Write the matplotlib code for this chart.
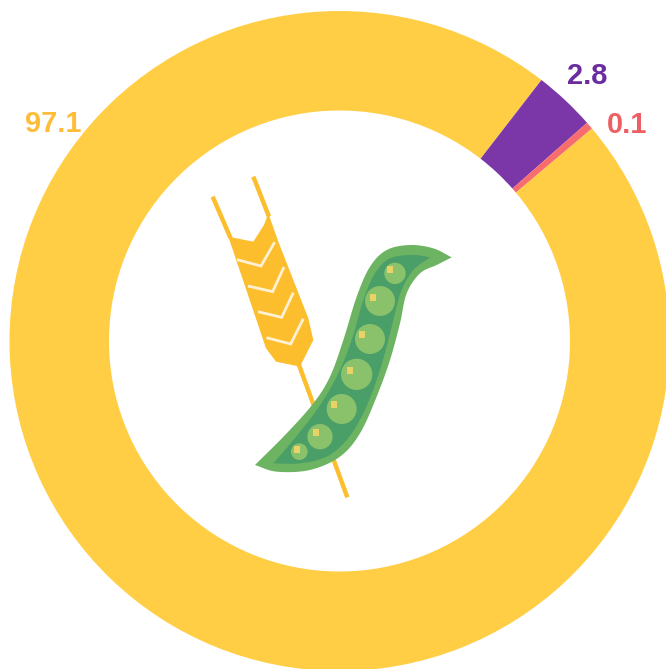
import numpy as np
import matplotlib
matplotlib.use("Agg")
import matplotlib.pyplot as plt
from matplotlib.patches import Polygon, Ellipse, Rectangle

plt.rcParams['font.family'] = ['Liberation Sans', 'DejaVu Sans']

# printed labels
categories = ["A", "B", "C"]
label_values = ["97.1", "2.8", "0.1"]
# slice sizes as measured from the arc angles in the picture
arc_shares = [96.62, 3.02, 0.36]
slice_colors = ["#FFCE45", "#7B36A8", "#F76C6C"]
label_colors = ["#FDBD39", "#6B2C9F", "#EE5F63"]

W, H = 666, 669
fig = plt.figure(figsize=(W / 100, H / 100), dpi=100)
ax = fig.add_axes([0, 0, 1, 1])

CX, CY, R_OUT, R_IN = 339.5, H - 341, 330, 230.5
ax.pie(arc_shares, colors=slice_colors, startangle=90 - 49.9, counterclock=False,
       center=(CX, CY), radius=R_OUT, labels=None,
       wedgeprops=dict(width=R_OUT - R_IN, linewidth=0))
ax.set_xlim(0, W)
ax.set_ylim(0, H)
ax.set_aspect('equal')
ax.axis('off')

label_xy = [(53, 124), (587, 76), (627, 125)]
for txt, col, (x, y) in zip(label_values, label_colors, label_xy):
    ax.text(x, H - y, txt, color=col, fontsize=20.9, fontweight='bold',
            ha='center', va='center')

# ---- centre emblem (wheat and pea pod), outlined in reference crop coordinates


def P(pts):
    a = np.asarray(pts, float)
    return np.c_[200 + a[:, 0] / 3, H - (170 + a[:, 1] / 3)]


def smooth(pts, n=8):
    p = np.asarray(pts, float)
    p = np.vstack([2 * p[0] - p[1], p, 2 * p[-1] - p[-2]])
    out = []
    for i in range(1, len(p) - 2):
        for t in np.linspace(0, 1, n, endpoint=False):
            out.append(0.5 * (2 * p[i] + (p[i + 1] - p[i - 1]) * t
                              + (2 * p[i - 1] - 5 * p[i] + 4 * p[i + 1] - p[i + 2]) * t ** 2
                              + (3 * p[i] - p[i - 1] - 3 * p[i + 1] + p[i + 2]) * t ** 3))
    out.append(p[-2])
    return np.array(out)


WHEAT = "#FDBE2E"
for seg in ([(38, 80), (92, 205)], [(160, 20), (207, 140)], [(297, 585), (442, 982)]):
    xy = P(seg)
    ax.plot(xy[:, 0], xy[:, 1], color=WHEAT, lw=3.2, solid_capstyle='butt', zorder=3)

head = [(205, 130), (235, 215), (325, 445), (340, 510), (300, 590), (228, 575), (198, 535),
        (85, 200), (160, 215), (192, 165)]
ax.add_patch(Polygon(P(head), closed=True, fc=WHEAT, ec='none', zorder=3))
for chev in ([(115, 270), (183, 288), (222, 220)], [(148, 349), (218, 365), (250, 295)],
             [(178, 426), (245, 442), (278, 372)], [(203, 504), (272, 522), (308, 450)]):
    xy = P(chev)
    ax.plot(xy[:, 0], xy[:, 1], color="#FFF1D2", lw=2.0, zorder=4, solid_joinstyle='miter')

pod_top = [(755, 262), (700, 235), (630, 225), (560, 240), (510, 290), (470, 380), (430, 510),
           (390, 620), (340, 700), (260, 790), (165, 885)]
pod_bot = [(165, 885), (230, 905), (330, 900), (420, 860), (480, 790), (530, 680), (570, 570),
           (600, 460), (620, 370), (660, 310), (710, 285), (755, 262)]
ax.add_patch(Polygon(P(np.vstack([smooth(pod_top), smooth(pod_bot)])), closed=True,
                     fc="#6DB462", ec='none', zorder=5))
in_top = [(690, 262), (640, 255), (570, 265), (525, 310), (490, 390), (455, 510), (410, 620),
          (350, 720), (280, 810), (220, 880)]
in_bot = [(220, 880), (300, 880), (380, 860), (440, 810), (490, 730), (530, 630), (560, 530),
          (585, 430), (605, 360), (640, 300), (690, 262)]
ax.add_patch(Polygon(P(np.vstack([smooth(in_top), smooth(in_bot)])), closed=True,
                     fc="#4A9E68", ec='none', zorder=6))

peas = [(585, 310, 32), (540, 393, 45), (510, 507, 45), (470, 613, 47), (425, 717, 45),
        (360, 800, 38), (298, 845, 25)]
spots = [(570, 298), (518, 382), (486, 492), (450, 600), (403, 702), (347, 787), (290, 838)]
for (zx, zy, zr), (sx, sy) in zip(peas, spots):
    c = P([(zx, zy)])[0]
    ax.add_patch(Ellipse(c, 2 * zr / 3, 2 * zr / 3, fc="#8AC26B", ec='none', zorder=7))
    s = P([(sx, sy)])[0]
    ax.add_patch(Rectangle((s[0] - 3, s[1] - 3.5), 6, 7, fc="#E9D366", ec='none', zorder=8))

fig.savefig("out.png", dpi=100)
